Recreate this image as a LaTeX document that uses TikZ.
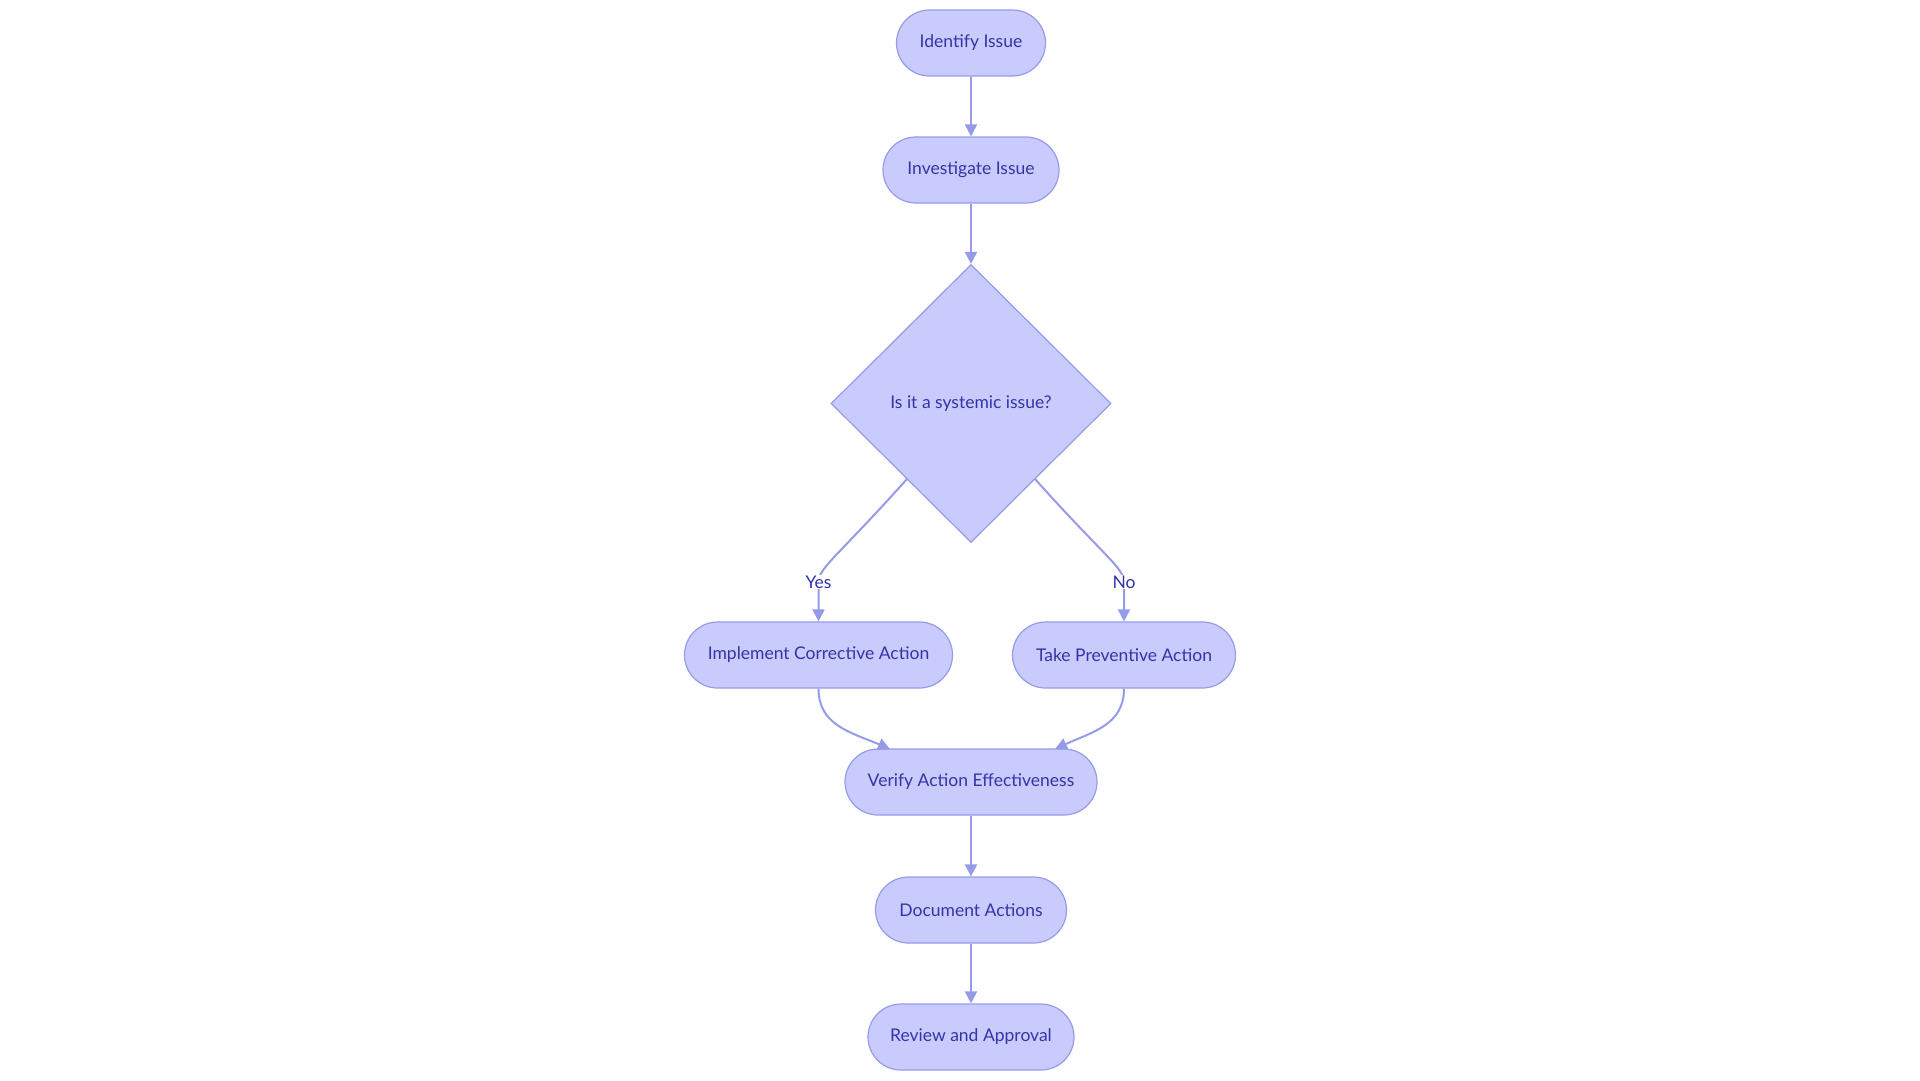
\documentclass[tikz,border=0pt]{standalone}
\usepackage{fontspec}
\setmainfont{Lato}
\usetikzlibrary{shapes.geometric,arrows.meta}
\definecolor{nodefill}{RGB}{201,203,253}
\definecolor{nodeline}{RGB}{150,155,232}
\definecolor{edgecol}{RGB}{150,155,232}
\definecolor{txt}{RGB}{52,52,168}
\tikzset{
  pill/.style={draw=nodeline, fill=nodefill, line width=1.2pt, rounded corners=33pt,
    minimum height=66pt, text=txt, font=\fontsize{17.5}{21}\selectfont, inner sep=0pt},
  decision/.style={draw=nodeline, fill=nodefill, line width=1.2pt, shape=diamond,
    minimum width=280pt, minimum height=278pt, inner sep=0pt, text=txt,
    font=\fontsize{17.5}{21}\selectfont},
  flow/.style={draw=edgecol, line width=2pt, -{Triangle[length=12pt,width=12pt]}},
  lbl/.style={fill=white, text=txt, font=\fontsize{17.5}{21}\selectfont, inner sep=1pt}
}
\begin{document}
\begin{tikzpicture}[x=1pt,y=-1pt]
\useasboundingbox (0,0) rectangle (1920,1080);
\node[pill, minimum width=149pt] (identify) at (971,43) {Identify Issue};
\node[pill, minimum width=176pt] (investigate) at (971,170) {Investigate Issue};
\node[decision] (systemic) at (971,403.5) {Is it a systemic issue?};
\node[pill, minimum width=268pt] (corrective) at (818.5,655) {Implement Corrective Action};
\node[pill, minimum width=223pt] (preventive) at (1124,655) {Take Preventive Action};
\node[pill, minimum width=252pt] (verify) at (971,782) {Verify Action Effectiveness};
\node[pill, minimum width=191pt] (document) at (971,910) {Document Actions};
\node[pill, minimum width=206pt] (review) at (971,1037) {Review and Approval};

\draw[flow] (identify) -- (investigate);
\draw[flow] (investigate) -- (systemic.north);
\coordinate (yesstart) at (907,479);
\coordinate (nostart) at (1035,479);
\coordinate (yesmid) at (818.5,582);
\coordinate (nomid) at (1124,582);
\draw[flow] (yesstart) .. controls (838,556) and (818.5,568) .. (yesmid)
  node[lbl] (yes) {Yes} -- (corrective.north);
\draw[flow] (nostart) .. controls (1104,556) and (1124,568) .. (nomid)
  node[lbl] (no) {No} -- (preventive.north);
\coordinate (vleft) at (890,749);
\coordinate (vright) at (1055,749);
\draw[flow] (corrective.south) .. controls (818.5,725) and (850,732) .. (vleft);
\draw[flow] (preventive.south) .. controls (1124,725) and (1092,732) .. (vright);
\draw[flow] (verify) -- (document);
\draw[flow] (document) -- (review);
\end{tikzpicture}
\end{document}
